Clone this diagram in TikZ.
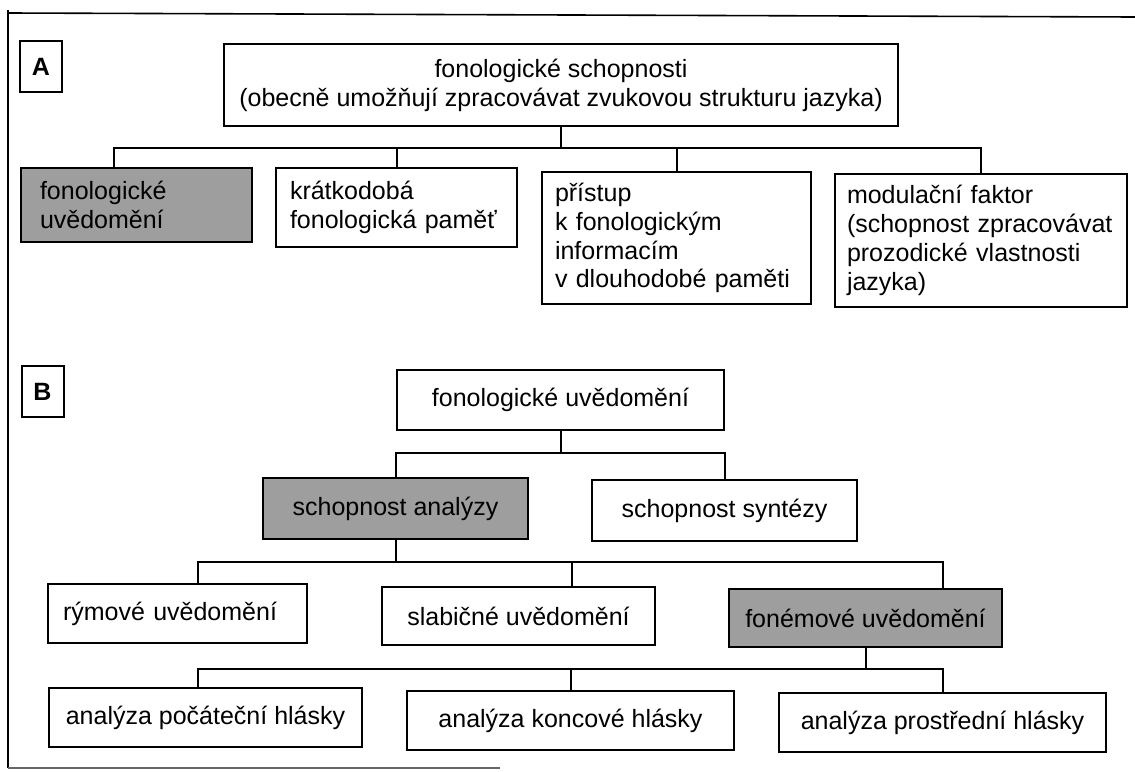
\documentclass[tikz,border=0pt]{standalone}
\usepackage{fontspec}
\setmainfont{Liberation Sans}

\begin{document}
\begin{tikzpicture}[x=0.5pt, y=-0.5pt,
	box/.style={draw, line width=1pt, inner sep=0pt, font=\fontsize{12.5}{14.4}\selectfont},
	shaded/.style={box, fill=black!38},
	tag/.style={box, font=\fontsize{12.5}{14.4}\selectfont\bfseries, minimum width=21pt, minimum height=25.5pt},
	link/.style={line width=1pt},
	frame/.style={line width=0.8pt}]
	  \useasboundingbox (0,0) rectangle (1135,771);
	  \draw [frame] (8,13) -- (1135,17);
	  \draw [frame] (8,10) -- (8,768);
	  \draw [frame,black!60] (8,768) -- (500,768);

	  % part A
	  \node [tag] (tagA) at (41,66.5) {A};
	  \node [box, align=center, minimum width=337pt, minimum height=41pt] (top) at (561,85)
	        {fonologické schopnosti\\(obecně umožňují zpracovávat zvukovou strukturu jazyka)};
	  \node [shaded, align=left, text width=96.5pt, inner xsep=9.5pt, minimum height=37pt] (fu) at (136.5,205)
	        {fonologické\\uvědomění};
	  \node [box, align=left, text width=106.5pt, inner xsep=7pt, minimum height=39.5pt] (kfp) at (396.5,207.5)
	        {krátkodobá\\fonologická paměť};
	  \node [box, align=left, text width=121.5pt, inner xsep=6.5pt, minimum height=66pt] (pristup) at (676.5,238)
	        {přístup\\k fonologickým\\informacím\\v dlouhodobé paměti};
	  \node [box, align=left, text width=134pt, inner xsep=6pt, minimum height=66.5pt] (modul) at (981,240.5)
	        {modulační faktor\\(schopnost zpracovávat\\prozodické vlastnosti\\jazyka)};

	  \coordinate (barA) at (561,148);
	  \coordinate (fuin) at (114,168);
	  \draw [link] (top.south) -- (barA);
	  \draw [link] (fuin) |- (barA) -| (modul.north);
	  \draw [link] (kfp.north) -- (kfp.north |- barA);
	  \draw [link] (pristup.north) -- (pristup.north |- barA);

	  % part B
	  \node [tag] (tagB) at (42.5,391.5) {B};
	  \node [box, minimum width=163.5pt, minimum height=30pt] (fu2) at (560.5,400) {fonologické uvědomění};
	  \node [shaded, minimum width=132.5pt, minimum height=30.5pt] (analyzy) at (395.5,508.5) {schopnost analýzy};
	  \node [box, minimum width=132.5pt, minimum height=30.5pt] (synt) at (724.5,510.5) {schopnost syntézy};

	  \coordinate (barB) at (560.5,453);
	  \draw [link] (fu2.south) -- (barB);
	  \draw [link] (analyzy.north) |- (barB) -| (synt.north);

	  \node [box, align=left, text width=114.5pt, inner xsep=7.5pt, minimum height=29.5pt] (rym) at (177.5,613.5)
	        {rýmové uvědomění};
	  \node [box, minimum width=136.5pt, minimum height=29pt] (slab) at (518.5,616) {slabičné uvědomění};
	  \node [shaded, minimum width=136.5pt, minimum height=29pt] (fonem) at (865.5,618) {fonémové uvědomění};

	  \coordinate (barC) at (396,562);
	  \coordinate (rymin) at (198,584);
	  \coordinate (slabin) at (572,587);
	  \coordinate (fonemin) at (943,589);
	  \draw [link] (analyzy.south) -- (analyzy.south |- barC);
	  \draw [link] (rymin) |- (barC) -| (fonemin);
	  \draw [link] (slabin) -- (slabin |- barC);

	  \node [box, minimum width=156.5pt, minimum height=29.5pt] (poc) at (205.5,717.5) {analýza počáteční hlásky};
	  \node [box, minimum width=163.5pt, minimum height=29.5pt] (kon) at (570.5,720.5) {analýza koncové hlásky};
	  \node [box, minimum width=163.5pt, minimum height=29.5pt] (pros) at (942.5,722.5) {analýza prostřední hlásky};

	  \coordinate (barD) at (865.5,669);
	  \coordinate (pocin) at (198,688);
	  \draw [link] (fonem.south) -- (barD);
	  \draw [link] (pocin) |- (barD) -| (pros.north);
	  \draw [link] (kon.north) -- (kon.north |- barD);
	\end{tikzpicture}
\end{document}
